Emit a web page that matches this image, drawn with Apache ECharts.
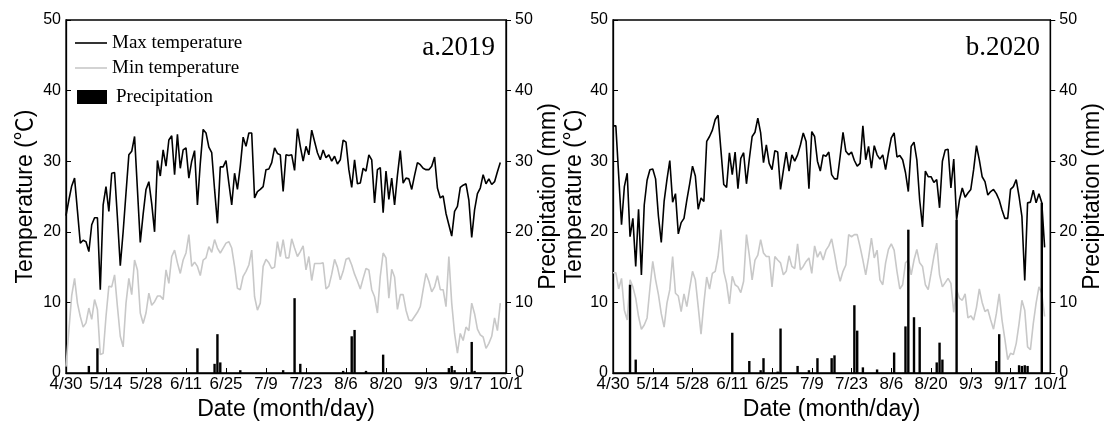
<!DOCTYPE html>
<html>
<head>
<meta charset="utf-8">
<script src="https://cdn.jsdelivr.net/npm/echarts@6/dist/echarts.min.js"></script>
<style>
html,body{margin:0;padding:0;background:#fff;}
#chart{width:1105px;height:427px;}
</style>
</head>
<body>
<div id="chart"></div>
<script>
// ---- data ----
const tickLabels = ['4/30','5/14','5/28','6/11','6/25','7/9','7/23','8/6','8/20','9/3','9/17','10/1'];
const dayCount = 155; // 4/30 .. 10/1

const max2019 = [22.3,24.5,26.5,27.6,23,18.4,18.8,18.6,17.2,21,22,22,11.8,23.8,26.4,22.9,28.3,28.4,22,15.2,20,25.5,30.9,31.4,33.5,26,18.5,22.5,26,27.1,24,20,30.1,27.9,31.6,29.3,33,33.6,28.1,33.8,29,31.6,31.9,27.6,30,31.5,23.8,29.7,34.5,34,32,31.2,26,21.2,29.2,29.2,30.1,26.9,23.8,28.3,26,29.3,33.4,32.1,34,34,24.8,25.7,26,26.4,28.8,28.9,29.8,31.9,31.1,
  30.9,25.7,30.9,30.8,30.9,28.7,34.6,32.1,30,32.1,30.9,34.4,32.8,31.2,30.2,31.6,30.5,30.9,30,30.7,29.6,30.2,33,32.7,28.8,26.3,30.2,26.8,26.9,29,28.6,30.9,30.2,24.1,28.8,29.1,22.7,28.6,24.6,27.6,23.8,28,31.5,26.9,27.6,27.5,26,28,29.8,29.5,29,28.8,28.8,29.3,30.6,26.2,24.8,25.1,22.6,21,19.4,22.9,23.6,26.3,26.6,26.8,24.5,19.2,23.1,25.4,26.2,28.1,26.8,27.5,26.7,27.1,28.5,29.8];
const min2019 = [0.9,6,11,13.4,9.9,8,6.5,7.1,9.2,7.6,10.4,9,2.6,2.8,8,12.3,12.2,13.9,9.4,5.2,3.7,9.9,13.4,11.1,16,14.6,8.5,7,8.5,11.3,9.6,10.1,10.9,10.9,10.4,14.6,12.7,16.5,17.4,15.6,14.1,16,17,19.6,15.1,15.7,15.1,13.8,16,16.3,17.9,17.1,18.9,17.7,17,17.7,18.4,18.6,17.7,15.1,12,11.8,13.7,14.4,15.3,17.4,10.8,8.9,9.9,15.1,16.1,15.6,14.8,15,18.6,
  16.5,18.9,16.3,16.3,19,17.7,16.5,17.2,18,14.6,16.5,13.1,15.5,15.5,15.5,15.6,11.9,12.3,14,16.1,15,13.2,14.4,16.1,16.3,15.3,14,13,11.9,13.4,14.8,14.6,11.8,10.8,8.5,13.7,17,16.3,10.6,14.7,13.6,9,11.1,11.1,8.9,7.5,7.4,8,8.6,9.4,11.8,14.1,13,11.5,12.2,13.8,11.8,11.8,9.4,16.5,9.9,5.6,2.8,5.6,4.6,6.5,6,9.9,8.4,6.2,5.4,5.1,3.5,4.2,5.2,7.8,6,9.9];
// precipitation: [day index from 4/30, mm]
const precip2019 = [[8,1.0],[11,3.5],[46,3.5],[52,1.3],[53,5.5],[54,1.5],[61,0.4],[76,0.4],[80,10.6],[82,1.3],[97,0.3],[100,5.2],[101,6.1],[105,0.3],[111,2.6],[134,0.7],[135,1.0],[136,0.4],[142,4.4],[143,0.3]];

const max2020 = [35,35,28,21,26.4,28.3,19.3,21.9,15.1,23.2,13.9,23.8,27.3,28.8,28.9,27.5,22.2,18.5,24.3,27.4,30.1,24.2,25.4,19.7,21.3,21.9,24.5,26.8,29.3,27.9,23.2,24.8,24.3,32.8,33.5,34.4,35.9,36.5,31.6,26.7,26.3,31.2,28.1,31.3,26.1,30.4,31.2,26.8,30.3,33.5,34.1,36.1,34,29.8,32.3,29.7,28.8,31.5,31.3,26,28.7,31.3,28.6,30.9,30,30.9,32.3,34,32.8,26.1,34.2,33.5,30,28.6,30.9,
  30.7,31.3,28.1,27.5,27.5,30.7,34.1,31.4,30.9,31.3,30.1,29.3,29.7,35,30.2,32.1,29,32.2,30.9,30.3,30.9,28.8,31.2,33.3,34,30.6,30.8,30.2,28.4,25.7,32.1,32.7,30.2,24.5,20.7,28.6,27.8,27.8,27,27.4,23.4,30,31.6,31.7,26.2,30.3,21.7,24.5,26.2,24.9,25.5,26,28.8,32.2,30.2,27.8,27.1,25.2,25.7,26,25.4,24.5,23.1,21.9,21.9,26,26.4,27.4,25,22.2,13.1,24.1,24.2,25.9,24.1,25.4,24.1,17.8];
const min2020 = [14.2,14.2,11.9,13.4,8.9,7.5,13.2,12.2,10.6,8,6.2,6.8,7.8,12,15.8,13.2,11.1,8.4,6.5,9.9,11.8,16.5,11.3,10.9,8.7,11.2,9.4,12,14.4,13.2,9.4,5.5,9.9,13.6,11.9,14.1,14.4,16.5,20.3,14.4,12.7,9.8,13.7,12.5,12.2,11.4,13,19.6,16.7,13.2,16,16.7,18.9,17,16.5,16.5,12.2,16.5,16,15.6,13.9,14.4,16.6,15.1,14.8,18.3,14.6,15.1,15.8,16.3,14.1,18,16.4,17.2,16,
  17.4,18,19,16.9,14.6,13,14.4,15.3,19.6,19.3,19.6,19.6,17.9,16,13.9,16.3,19.1,16.3,17.4,13.2,12.5,15.6,17.5,18.3,17.4,14.4,11.9,12.5,15.6,16,13.9,16,17.5,15.6,15.1,12.5,11.8,14.1,16.5,18.4,13.9,12.2,12.8,13.4,12.7,8.6,11.8,10.6,10.3,11.2,7.8,8.1,7.5,9.3,11.9,10,8.7,9,7.5,6.2,8.4,11.2,7.5,4.8,1.9,2.8,2.6,4.2,7,10.3,8.9,3.7,3.3,7,9.9,12.2,11.3,8];
const precip2020 = [[6,12.5],[8,1.9],[42,5.7],[48,1.7],[52,0.4],[53,2.1],[58,0.2],[59,6.3],[65,1.0],[69,0.4],[72,2.1],[77,2.1],[78,2.5],[85,9.6],[86,6],[88,0.8],[93,0.5],[99,2.9],[103,6.6],[104,20.3],[106,7.9],[108,6.5],[114,1.5],[115,4.3],[116,1.9],[121,21.7],[135,1.7],[136,5.5],[143,1.1],[144,1.0],[145,1.1],[146,1.0],[151,24.1]];

// ---- build ----
const categories = Array.from({length: dayCount}, (_, i) => {
  const d = new Date(2019, 3, 30 + i);
  return (d.getMonth() + 1) + '/' + d.getDate();
});
function fullPrecip(pairs) {
  const arr = new Array(dayCount).fill('-');
  pairs.forEach(p => { arr[p[0]] = p[1]; });
  return arr;
}

const SANS = "'Liberation Sans', Arial, 'Noto Sans CJK SC', sans-serif";
const SERIF = "'Liberation Serif', 'Times New Roman', serif";

function xAxis(gi) {
  return {
    gridIndex: gi, type: 'category', data: categories, boundaryGap: false,
    axisLine: {lineStyle: {color: '#000', width: 1.3}},
    axisTick: {inside: true, length: 5, interval: 13, lineStyle: {color: '#000', width: 1}},
    axisLabel: {interval: 13, fontSize: 17, color: '#000', fontFamily: SANS, margin: 3,
      formatter: (v, i) => tickLabels[Math.round(i / 14)]},
    splitLine: {show: false},
    name: 'Date (month/day)', nameLocation: 'middle', nameGap: 24,
    nameTextStyle: {fontSize: 23, color: '#000', fontFamily: SANS}
  };
}
function yAxisL(gi, gap) {
  return {
    gridIndex: gi, type: 'value', min: 0, max: 50, interval: 10, position: 'left',
    axisLine: {show: true, lineStyle: {color: '#000', width: 1.3}},
    axisTick: {show: true, inside: true, length: 5, lineStyle: {color: '#000', width: 1}},
    axisLabel: {fontSize: 16, color: '#000', fontFamily: SANS, margin: 5},
    splitLine: {show: false},
    name: 'Temperature (℃)', nameLocation: 'middle', nameGap: gap,
    nameTextStyle: {fontSize: 23, color: '#000', fontFamily: SANS}
  };
}
function yAxisR(gi, gap) {
  return {
    gridIndex: gi, type: 'value', min: 0, max: 50, interval: 10, position: 'right',
    axisLine: {show: true, lineStyle: {color: '#000', width: 1.3}},
    axisTick: {show: true, inside: false, length: 5, lineStyle: {color: '#000', width: 1}},
    axisLabel: {fontSize: 16, color: '#000', fontFamily: SANS, margin: 9},
    splitLine: {show: false},
    name: 'Precipitation (mm)', nameLocation: 'middle', nameGap: gap,
    nameTextStyle: {fontSize: 23, color: '#000', fontFamily: SANS}
  };
}
function seriesFor(gi, mx, mn, pr) {
  return [
    {type: 'line', name: 'Max temperature', xAxisIndex: gi, yAxisIndex: gi * 2, data: mx,
     symbol: 'none', lineStyle: {color: '#000', width: 1.6}, itemStyle: {color: '#000'}, z: 2},
    {type: 'line', name: 'Min temperature', xAxisIndex: gi, yAxisIndex: gi * 2, data: mn,
     symbol: 'none', lineStyle: {color: '#c8c8c8', width: 1.6}, itemStyle: {color: '#c8c8c8'}, z: 2},
    {type: 'bar', name: 'Precipitation', xAxisIndex: gi, yAxisIndex: gi * 2 + 1, data: fullPrecip(pr),
     barWidth: 2.4, itemStyle: {color: '#000'}, z: 3}
  ];
}

const chart = echarts.init(document.getElementById('chart'), null, {renderer: 'canvas'});
chart.setOption({
  animation: false,
  backgroundColor: '#fff',
  title: [
    {text: 'a.2019', right: 605, top: 29, textStyle: {fontFamily: SERIF, fontSize: 27, fontWeight: 'normal', color: '#000'}},
    {text: 'b.2020', right: 60, top: 29, textStyle: {fontFamily: SERIF, fontSize: 27, fontWeight: 'normal', color: '#000'}}
  ],
  legend: [
    {data: ['Max temperature', 'Min temperature'], orient: 'vertical', left: 70, top: 28,
     icon: 'rect', itemWidth: 32, itemHeight: 1.6, itemGap: 5,
     textStyle: {fontFamily: SERIF, fontSize: 19, color: '#000', lineHeight: 20}},
    {data: ['Precipitation'], orient: 'vertical', left: 72, top: 82,
     icon: 'rect', itemWidth: 30, itemHeight: 14,
     textStyle: {fontFamily: SERIF, fontSize: 19, color: '#000', lineHeight: 20, padding: [0, 0, 0, 4]}}
  ],
  grid: [
    {left: 66, right: 599, top: 20, bottom: 54, show: true, borderColor: '#000', borderWidth: 1.3},
    {left: 613, right: 54, top: 20, bottom: 54, show: true, borderColor: '#000', borderWidth: 1.3}
  ],
  xAxis: [xAxis(0), xAxis(1)],
  yAxis: [yAxisL(0, 29), yAxisR(0, 30), yAxisL(1, 20), yAxisR(1, 27)],
  series: [].concat(seriesFor(0, max2019, min2019, precip2019), seriesFor(1, max2020, min2020, precip2020))
});
</script>
</body>
</html>
